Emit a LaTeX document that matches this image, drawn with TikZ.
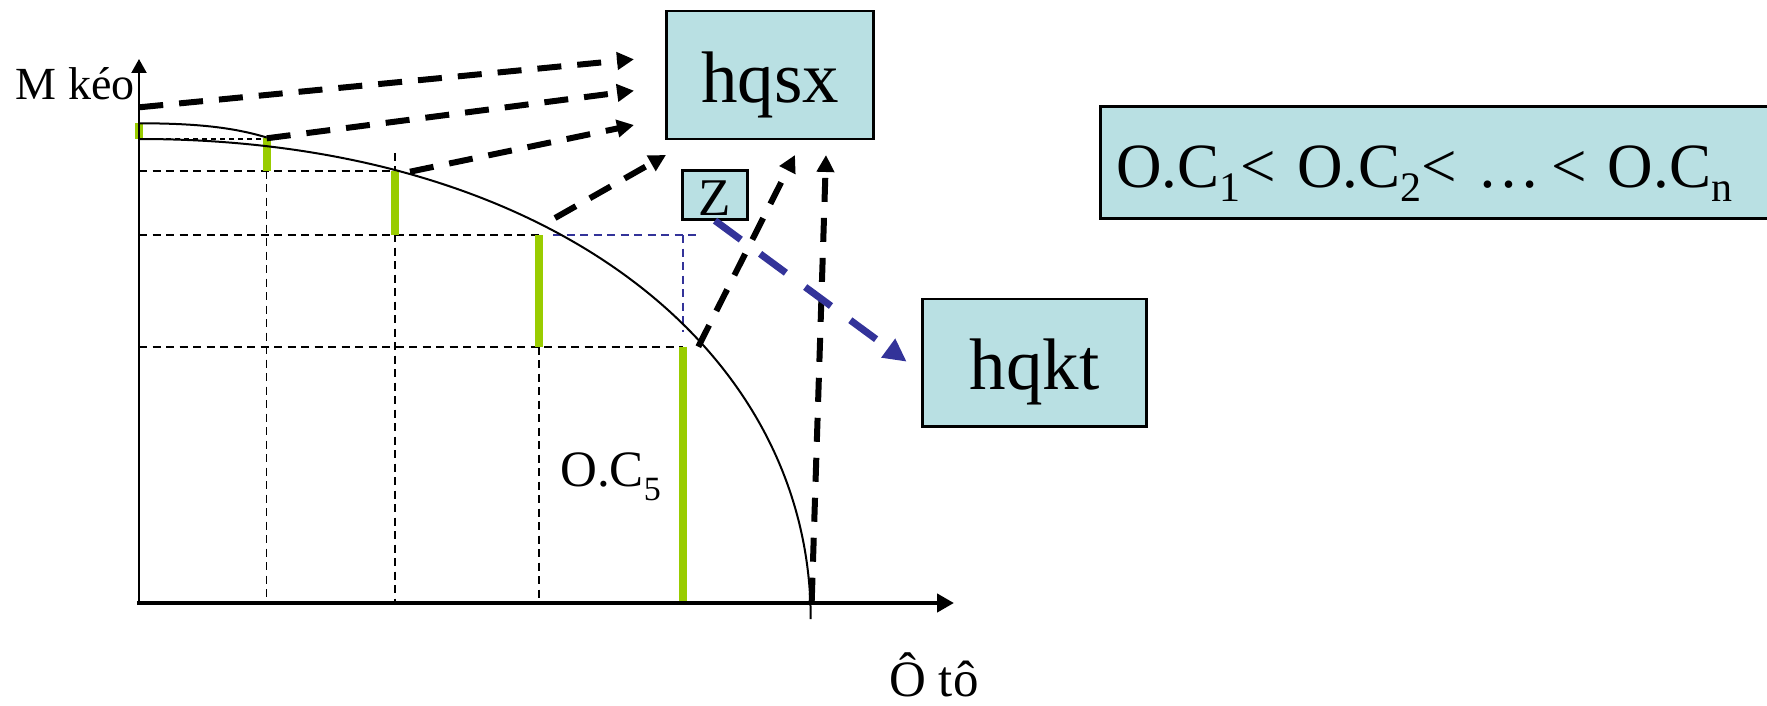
\documentclass[tikz,border=0pt]{standalone}
\usepackage{fontspec}
\setmainfont{Liberation Serif}
\usetikzlibrary{arrows.meta}
\definecolor{boxfill}{RGB}{185,224,227}
\definecolor{bargreen}{RGB}{153,204,0}
\definecolor{zblue}{RGB}{51,51,153}
\newcommand{\lowsub}[3]{\raisebox{-#3}{\fontsize{#2}{#2}\selectfont #1}}
\begin{document}
\begin{tikzpicture}[x=1pt,y=-1pt,
  box/.style={draw=black, line width=2.7pt, fill=boxfill, inner sep=0pt},
  greenbar/.style={draw=bargreen, line width=8pt},
  gridline/.style={black, line width=1.8pt, dash pattern=on 8pt off 5.5pt},
  bgridline/.style={zblue, line width=1.8pt, dash pattern=on 8pt off 5.5pt},
  bigarrow/.style={black, line width=6pt, dash pattern=on 24pt off 16pt, -{Triangle[length=17pt,width=17pt]}},
  bluearrow/.style={zblue, line width=7pt, dash pattern=on 32pt off 24pt, -{Triangle[length=23pt,width=22pt]}},
  lbl/.style={inner sep=0pt}
  ]
\clip (0,0) rectangle (1767,706);

% grid lines
\draw[black, line width=1.6pt, dash pattern=on 5pt off 4pt] (139,139) -- (266.5,139);
\draw[gridline] (139,170.7) -- (394.7,170.7);
\draw[gridline] (139,235) -- (539,235);
\draw[gridline] (139,346.7) -- (682.7,346.7);
\draw[gridline] (266.5,170.7) -- (266.5,601);
\draw[gridline] (394.7,153) -- (394.7,601);
\draw[gridline] (539,346.7) -- (539,601);
\draw[bgridline] (553,235) -- (699,235);
\draw[bgridline] (682.7,235) -- (682.7,332);

% green bars
\draw[greenbar] (139,123.3) -- (139,139);
\draw[greenbar] (266.7,138.3) -- (266.7,170.7);
\draw[greenbar] (394.7,170.7) -- (394.7,235);
\draw[greenbar] (539,235) -- (539,346.7);
\draw[greenbar] (682.7,346.7) -- (682.7,601.7);

% curves
\draw[line width=2pt] (139,139) .. controls (550,139) and (810.7,350) .. (810.7,619);
\draw[line width=2pt] (139,123.3) .. controls (200,123.3) and (235,128) .. (266.7,137.5);

% axes
\coordinate (O) at (139,603);
\coordinate (ytip) at (139,59);
\coordinate (xstart) at (137,603);
\coordinate (xtip) at (954,603);
\draw[line width=2.2pt, -{Triangle[length=14pt,width=15pt]}] (O) -- (ytip);
\draw[line width=4.5pt, -{Triangle[length=17pt,width=18pt]}] (xstart) -- (xtip);

% boxes
\node[box, font=\fontsize{73pt}{80pt}\selectfont, minimum width=207pt, text height=91.7pt, text depth=36.3pt] (hqsx) at (770.3,75) {hqsx};
\node[box, font=\fontsize{73pt}{80pt}\selectfont, minimum width=224pt, text height=91pt, text depth=36.7pt] (hqkt) at (1034.7,362.8) {hqkt};
\node[box, font=\fontsize{53pt}{60pt}\selectfont, minimum width=64.6pt, text height=44.3pt, text depth=4.3pt] (zbox) at (715,195) {Z};
\node[box, anchor=west, font=\fontsize{63pt}{70pt}\selectfont, text width=660pt, align=left, inner xsep=16pt, inner ysep=0pt, text height=80.3pt, text depth=31.3pt] (ocbox) at (1099,162.5)
  {O.C\lowsub{1}{42pt}{14.5pt}< O.C\lowsub{2}{42pt}{14.5pt}< …\,< O.C\lowsub{n}{42pt}{14.5pt}};

% labels
\node[lbl, anchor=base east, font=\fontsize{46pt}{50pt}\selectfont] (mkeo) at (135,100) {M kéo};
\node[lbl, anchor=base, font=\fontsize{51pt}{56pt}\selectfont] (oto) at (934,696) {Ô tô};
\node[lbl, anchor=base west, font=\fontsize{51pt}{56pt}\selectfont] (oc5) at (560,486.7) {O.C\lowsub{5}{34pt}{13.3pt}};

% arrow endpoints
\coordinate (s1) at (139.3,107.3);  \coordinate (t1) at (634,59.3);
\coordinate (s2) at (266.7,138.3);  \coordinate (t2) at (634,90.7);
\coordinate (s3) at (410,171.7);    \coordinate (t3) at (634,125);
\coordinate (s4) at (555,218);      \coordinate (t4) at (666,155);
\coordinate (s5) at (698.3,346.7);  \coordinate (t5) at (795,155);
\coordinate (s6) at (811.7,601.7);  \coordinate (t6) at (826,155);
\coordinate (bt) at (906.7,361.7);

\draw[bigarrow] (s1) -- (t1);
\draw[bigarrow] (s2) -- (t2);
\draw[bigarrow] (s3) -- (t3);
\draw[bigarrow] (s4) -- (t4);
\draw[bigarrow] (s5) -- (t5);
\draw[bigarrow] (s6) -- (t6);
\draw[bluearrow] (zbox.south) -- (bt);
\end{tikzpicture}
\end{document}
